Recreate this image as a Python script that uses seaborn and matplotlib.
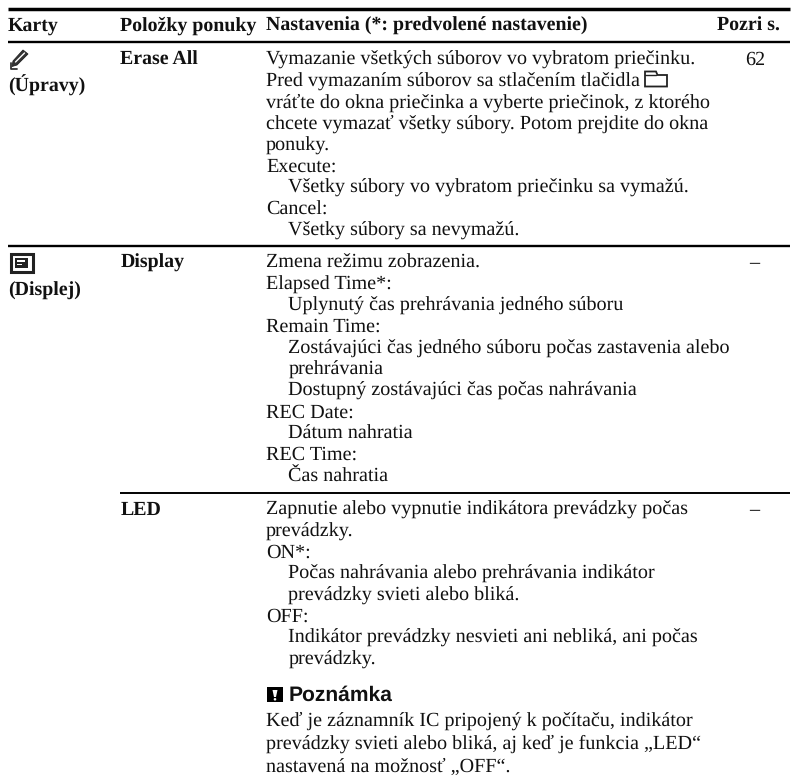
import matplotlib
matplotlib.use('Agg')
import matplotlib.pyplot as plt
from matplotlib.patches import Polygon, Rectangle, Ellipse
import seaborn as sns

headers = ['Karty', 'Položky ponuky', 'Nastavenia (*: predvolené nastavenie)', 'Pozri s.']
tab_names = ['(Úpravy)', '(Displej)']
item_names = ['Erase All', 'Display', 'LED']
see_pages = ['62', '–', '–']
note_title = 'Poznámka'

erase_lines = [
    'Vymazanie všetkých súborov vo vybratom priečinku.',
    'Pred vymazaním súborov sa stlačením tlačidla',
    'vráťte do okna priečinka a vyberte priečinok, z ktorého',
    'chcete vymazať všetky súbory. Potom prejdite do okna',
    'ponuky.',
    'Execute:',
    '\tVšetky súbory vo vybratom priečinku sa vymažú.',
    'Cancel:',
    '\tVšetky súbory sa nevymažú.',
]
display_lines = [
    'Zmena režimu zobrazenia.',
    'Elapsed Time*:',
    '\tUplynutý čas prehrávania jedného súboru',
    'Remain Time:',
    '\tZostávajúci čas jedného súboru počas zastavenia alebo',
    '\tprehrávania',
    '\tDostupný zostávajúci čas počas nahrávania',
    'REC Date:',
    '\tDátum nahratia',
    'REC Time:',
    '\tČas nahratia',
]
led_lines = [
    'Zapnutie alebo vypnutie indikátora prevádzky počas',
    'prevádzky.',
    'ON*:',
    '\tPočas nahrávania alebo prehrávania indikátor',
    '\tprevádzky svieti alebo bliká.',
    'OFF:',
    '\tIndikátor prevádzky nesvieti ani nebliká, ani počas',
    '\tprevádzky.',
]
note_lines = [
    'Keď je záznamník IC pripojený k počítaču, indikátor',
    'prevádzky svieti alebo bliká, aj keď je funkcia „LED“',
    'nastavená na možnosť „OFF“.',
]

sns.set_theme(style='white')
plt.rcParams['font.family'] = ['Liberation Serif', 'DejaVu Serif']
plt.rcParams['text.hinting'] = 'no_hinting'

W, H = 794, 782
fig = plt.figure(figsize=(W / 100, H / 100), dpi=100)
ax = fig.add_axes([0, 0, 1, 1])
ax.set_xlim(0, W)
ax.set_ylim(H, 0)
ax.axis('off')

FS = 14.5
FS_BOLD = 14.3
PITCH = 21.35
COLS = [8, 120.5, 266, 717]
ink = '#111111'


def put(x, y, s, bold=False, **kw):
    ax.text(x, y, s, fontsize=kw.pop('fontsize', FS_BOLD if bold else FS), color=ink,
            va='baseline', fontweight='bold' if bold else 'normal', **kw)


def block(lines, y0, pitch=PITCH):
    for i, s in enumerate(lines):
        x = COLS[2] + (22.5 if s.startswith('\t') else 0)
        put(x, y0 + i * pitch, s.strip())


def rule(x0, x1, y, lw):
    sns.lineplot(x=[x0, x1], y=[y, y], ax=ax, color='black', linewidth=lw,
                 errorbar=None, legend=False, solid_capstyle='butt')


rule(7.5, 790, 8.8, 2.5)
rule(7.5, 790, 42, 1.7)
rule(7.5, 790, 246, 1.7)
rule(120, 790, 493.3, 1.4)

for x, s in zip(COLS, headers):
    put(x, 31, s, bold=True)

put(COLS[0], 92, tab_names[0], bold=True)
put(COLS[0], 296, tab_names[1], bold=True)

for y, s, page in zip([65, 268, 515], item_names, see_pages):
    put(COLS[1], y, s, bold=True)
    put(745 if page != '–' else 749, y, page)

block(erase_lines, 65)
block(display_lines, 268)
block(led_lines, 515)

put(289, 701, note_title, bold=True, family='Liberation Sans', fontsize=15.1)
block(note_lines, 726, pitch=22.8)

# pencil
ax.add_patch(Polygon([(23, 50), (28, 54), (17, 65), (12, 66.5), (13, 61)],
                     closed=True, fc='#333333', ec='#222222', lw=0.6))
ax.plot([15.5, 24.5], [62, 53], color='white', lw=1.0)
ax.plot([11, 11, 17], [63, 68.5, 68.5], color='#333333', lw=1.3)
# display
ax.add_patch(Rectangle((11, 253.5), 21.5, 18, fc='white', ec='#222222', lw=2.2))
ax.add_patch(Rectangle((15, 257.5), 13, 10.5, fc='#222222', ec='none'))
ax.add_patch(Rectangle((17, 260), 8, 1.6, fc='white', ec='none'))
ax.add_patch(Rectangle((17, 263.5), 5, 1.6, fc='white', ec='none'))
# folder
ax.add_patch(Polygon([(645, 86.5), (645, 71.5), (656, 71.5), (657.5, 75), (667, 75), (667, 86.5)],
                     closed=True, fc='white', ec='#222222', lw=1.3))
ax.plot([645, 656], [75, 75], color='#222222', lw=1.0)
# note mark
ax.add_patch(Rectangle((267, 687), 16, 15, fc='black', ec='none'))
ax.add_patch(Polygon([(272.5, 690), (277.5, 690), (276, 697), (274, 697)], closed=True, fc='white', ec='none'))
ax.add_patch(Ellipse((275, 699.3), 2.6, 2.6, fc='white', ec='none'))

fig.savefig('out.png', dpi=100)
